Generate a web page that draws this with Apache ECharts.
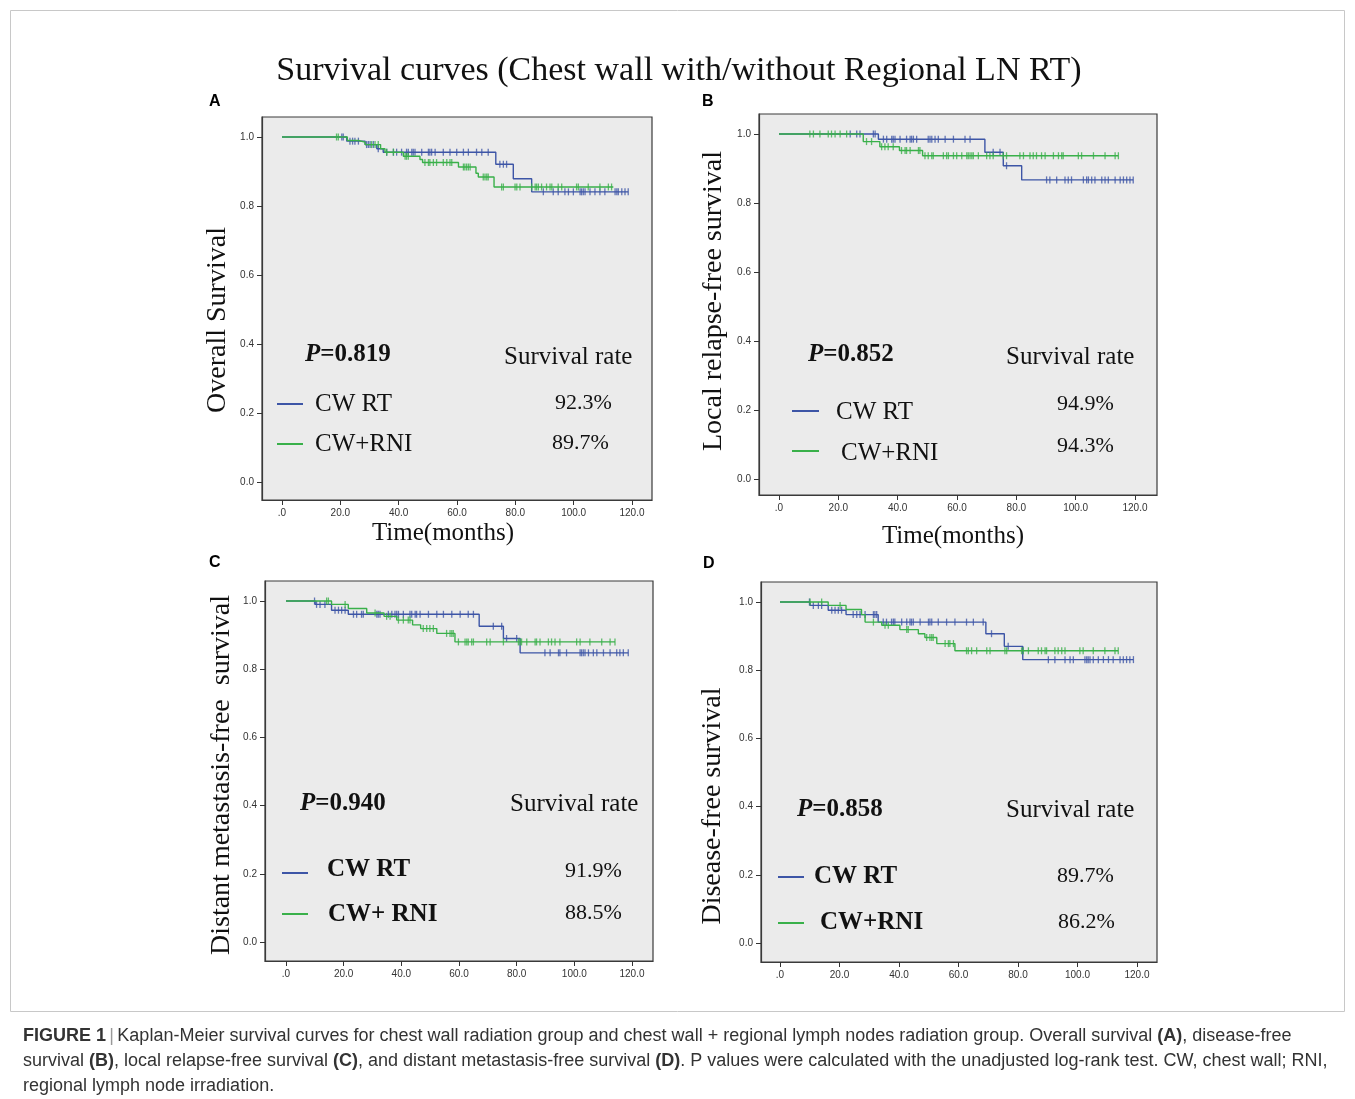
<!DOCTYPE html>
<html><head><meta charset="utf-8">
<script src="https://cdn.jsdelivr.net/npm/echarts@6/dist/echarts.min.js"></script>
<style>html,body{margin:0;padding:0;background:#fff}#c{width:1355px;height:1099px}</style>
</head><body><div id="c"></div>
<script>
// ---------------- DATA ----------------
const xTicks = [0, 20, 40, 60, 80, 100, 120];
const yTicks = [0, 0.2, 0.4, 0.6, 0.8, 1.0];

// Panel A: Overall survival
const osRtSteps = [[0,1],[22.2,0.988],[28.5,0.978],[32.5,0.966],[34.7,0.956],[73.3,0.921],[79.3,0.879],[85.6,0.841],[118.7,0.841]];
const osRtCensor = [20.5,21.0,23.3,24.2,25.0,26.2,29.0,29.6,30.2,31.3,33.0,35.9,38.2,39.3,41.0,42.7,43.3,44.5,45.0,45.6,47.9,50.2,50.7,51.3,52.5,55.3,57.6,59.9,62.2,63.9,66.7,68.5,70.7,74.7,75.9,77.0,89.6,93.0,94.7,97.0,98.2,99.9,102.2,102.7,103.3,103.9,105.6,107.3,109.0,110.7,114.2,114.8,115.3,116.5,117.6,118.7];
const osRniSteps = [[0,1],[22.4,0.99],[26.2,0.985],[28.5,0.978],[33.8,0.966],[35.3,0.956],[41.6,0.944],[47.3,0.935],[48.2,0.926],[60.5,0.913],[66.5,0.895],[67.3,0.884],[72.7,0.855],[113.6,0.855]];
const osRniCensor = [18.7,19.3,30.7,31.9,33.0,35.9,38.2,42.2,42.7,43.3,49.0,50.2,50.7,51.9,53.0,55.3,56.5,57.6,58.2,62.2,62.7,63.3,63.9,64.5,69.0,69.6,70.2,70.7,75.3,75.9,79.9,80.5,81.6,85.6,86.8,87.3,87.9,89.0,90.7,91.9,92.5,94.7,95.9,101.0,101.6,105.0,109.0,111.9,113.0];
const osRates = ['92.3%', '89.7%'];
const osP = '0.819';

// Panel B: Local relapse-free survival
const lrfsRtSteps = [[0,1],[33.5,0.985],[69.4,0.947],[75.6,0.908],[81.8,0.867],[119.4,0.867]];
const lrfsRtCensor = [24.0,26.2,27.3,31.8,32.4,35.2,36.3,38.0,38.5,39.1,40.8,43.0,44.2,44.7,45.3,46.4,50.3,50.9,51.5,52.6,53.7,56.0,58.8,62.7,64.4,72.2,74.5,76.7,90.2,91.3,93.6,96.4,97.5,98.6,102.6,103.7,104.3,105.4,106.5,108.8,109.9,111.0,113.3,115.0,116.1,117.2,118.3,119.4];
const lrfsRniSteps = [[0,1],[28.4,0.978],[34.0,0.963],[40.6,0.952],[48.4,0.937],[114.4,0.937]];
const lrfsRniCensor = [10.4,11.6,13.8,16.6,17.7,18.9,20.6,22.8,29.5,31.2,34.6,35.7,36.8,38.5,41.3,42.5,43.0,44.2,47.0,47.5,49.2,50.3,51.5,52.0,55.4,56.5,57.1,58.8,59.9,61.6,63.3,63.8,64.4,65.0,65.5,67.2,70.0,71.1,72.2,75.6,76.7,81.2,82.4,84.6,85.7,86.8,88.5,89.7,92.5,94.2,95.3,95.8,100.9,102.0,106.0,109.9,113.3,114.4];
const lrfsRates = ['94.9%', '94.3%'];
const lrfsP = '0.852';

// Panel C: Distant metastasis-free survival
const dmfsRtSteps = [[0,1],[10.1,0.990],[15.8,0.973],[21.6,0.961],[67.0,0.926],[75.4,0.890],[81.2,0.848],[118.7,0.848]];
const dmfsRtCensor = [9.9,10.6,11.8,13.5,17.0,18.2,19.3,20.5,23.4,24.5,26.2,26.8,31.5,32.0,32.6,35.5,36.7,37.8,38.4,39.0,40.7,43.0,43.6,44.8,45.3,46.5,49.4,52.3,54.6,57.5,60.4,63.2,65.0,71.9,74.8,76.5,80.0,89.8,91.6,94.5,95.0,97.3,102.0,102.5,103.1,103.7,104.9,106.6,107.8,110.1,112.4,114.7,115.8,117.0,118.7];
const dmfsRniSteps = [[0,1],[15.8,0.990],[21.6,0.978],[28.0,0.965],[34.0,0.955],[38.4,0.944],[43.9,0.930],[46.7,0.919],[52.3,0.905],[58.6,0.880],[114.1,0.880]];
const dmfsRniCensor = [14.1,14.7,20.5,30.9,34.9,36.1,39.0,40.7,42.4,43.0,47.6,48.8,49.9,51.1,55.7,56.9,57.5,58.0,59.8,62.1,62.7,63.2,64.4,65.0,69.6,70.8,75.4,80.6,81.2,81.7,83.5,86.4,86.9,88.1,91.0,92.1,93.3,95.0,100.8,102.0,105.4,109.5,112.4,114.1];
const dmfsRates = ['91.9%', '88.5%'];
const dmfsP = '0.940';

// Panel D: Disease-free survival
const dfsRtSteps = [[0,1],[10.1,0.990],[16.2,0.976],[22.2,0.963],[33.0,0.941],[69.2,0.907],[75.4,0.870],[81.6,0.831],[118.8,0.831]];
const dfsRtCensor = [9.9,11.2,12.9,14.0,17.4,18.5,19.6,20.7,24.6,25.8,26.9,28.6,31.4,31.9,32.5,34.7,35.8,37.5,38.1,38.6,40.9,42.6,43.7,44.2,44.8,47.1,49.9,50.4,51.0,53.2,56.0,58.8,62.7,65.0,68.3,71.1,76.7,90.2,92.4,95.8,97.5,98.6,102.5,103.1,103.6,104.2,105.3,107.0,108.7,110.4,112.0,114.3,115.4,116.5,117.6,118.8];
const dfsRniSteps = [[0,1],[16.2,0.990],[22.2,0.978],[27.4,0.963],[28.6,0.941],[34.2,0.932],[40.3,0.919],[46.5,0.907],[48.7,0.896],[52.7,0.878],[58.8,0.857],[113.7,0.857]];
const dfsRniCensor = [10.1,14.0,20.2,31.4,35.3,36.4,42.6,43.1,49.3,50.4,51.0,51.5,55.5,56.6,57.1,58.3,62.7,63.3,64.4,66.1,69.5,70.6,75.6,76.2,81.2,81.8,83.5,86.8,87.9,89.1,89.6,92.4,93.5,94.7,95.8,100.8,101.9,105.3,109.2,112.6,113.7];
const dfsRates = ['89.7%', '86.2%'];
const dfsP = '0.858';

// ---------------- LAYOUT / STYLE ----------------
const BLUE = '#3d55a6', GREEN = '#39b04a';
const SERIF = '"Liberation Serif","Times New Roman",serif';
const SANS = '"Liberation Sans",Arial,sans-serif';

const panels = [
  { letter:'A', steps:[osRtSteps, osRniSteps], cens:[osRtCensor, osRniCensor], rates:osRates, p:osP,
    box:{l:262,t:117,r:652,b:500}, data:{l:282,t:137,w:350,h:345},
    yTitle:'Overall Survival', yT:{x:218,y:320}, xTitle:'Time(months)', xT:{x:443,y:533}, letterPos:{x:209,y:102},
    txt:{p:[305,355], sr:[504,357], l1:[277,303,404], n1:[315,404], r1:[555,403], l2:[277,303,444], n2:[315,444], r2:[552,443]},
    bold:false, names:['CW RT','CW+RNI'] },
  { letter:'B', steps:[lrfsRtSteps, lrfsRniSteps], cens:[lrfsRtCensor, lrfsRniCensor], rates:lrfsRates, p:lrfsP,
    box:{l:759,t:114,r:1157,b:495}, data:{l:779,t:134,w:356,h:345},
    yTitle:'Local relapse-free survival', yT:{x:714,y:301}, xTitle:'Time(months)', xT:{x:953,y:536}, letterPos:{x:702,y:102},
    txt:{p:[808,355], sr:[1006,357], l1:[792,819,411], n1:[836,412], r1:[1057,404], l2:[792,819,451], n2:[841,453], r2:[1057,446]},
    bold:false, names:['CW RT','CW+RNI'] },
  { letter:'C', steps:[dmfsRtSteps, dmfsRniSteps], cens:[dmfsRtCensor, dmfsRniCensor], rates:dmfsRates, p:dmfsP,
    box:{l:265,t:581,r:653,b:961}, data:{l:286,t:601,w:346,h:341},
    yTitle:'Distant metastasis-free  survival', yT:{x:222,y:775}, xTitle:null, letterPos:{x:209,y:563},
    txt:{p:[300,804], sr:[510,804], l1:[282,308,873], n1:[327,870], r1:[565,871], l2:[282,308,914], n2:[328,915], r2:[565,913]},
    bold:true, names:['CW RT','CW+ RNI'] },
  { letter:'D', steps:[dfsRtSteps, dfsRniSteps], cens:[dfsRtCensor, dfsRniCensor], rates:dfsRates, p:dfsP,
    box:{l:761,t:582,r:1157,b:962}, data:{l:780,t:602,w:357,h:341},
    yTitle:'Disease-free survival', yT:{x:713,y:806}, xTitle:null, letterPos:{x:703,y:564},
    txt:{p:[797,810], sr:[1006,810], l1:[778,804,877], n1:[814,877], r1:[1057,876], l2:[778,804,923], n2:[820,923], r2:[1058,922]},
    bold:true, names:['CW RT','CW+RNI'] }
];

function levelAt(steps, t) {
  let s = steps[0][1];
  for (const [tt, v] of steps) { if (tt <= t) s = v; }
  return s;
}

const grid = [], xAxis = [], yAxis = [], series = [], graphic = [];
const X0 = xTicks[0], X1 = xTicks[xTicks.length-1], Y0 = yTicks[0], Y1 = yTicks[yTicks.length-1];

panels.forEach((P, i) => {
  const b = P.box, d = P.data;
  const xPer = (X1 - X0) / d.w, yPer = (Y1 - Y0) / d.h;
  grid.push({ left:b.l, top:b.t, width:b.r-b.l, height:b.b-b.t, show:true,
    backgroundColor:'#ebebeb', borderColor:'#3a3a3a', borderWidth:1.2 });
  xAxis.push({ gridIndex:i, type:'value',
    min: X0 - (d.l - b.l) * xPer, max: X1 + (b.r - d.l - d.w) * xPer,
    axisLine:{show:true, onZero:false, lineStyle:{color:'#3a3a3a', width:1.2}},
    axisTick:{show:true, length:5, customValues:xTicks, lineStyle:{color:'#333', width:1}},
    axisLabel:{fontSize:10, color:'#333', fontFamily:SANS, margin:8, customValues:xTicks,
      formatter:v => v === 0 ? '.0' : v.toFixed(1)},
    splitLine:{show:false} });
  yAxis.push({ gridIndex:i, type:'value',
    min: Y0 - (b.b - d.t - d.h) * yPer, max: Y1 + (d.t - b.t) * yPer,
    axisLine:{show:true, onZero:false, lineStyle:{color:'#3a3a3a', width:1.2}},
    axisTick:{show:true, length:5, customValues:yTicks, lineStyle:{color:'#333', width:1}},
    axisLabel:{fontSize:10, color:'#333', fontFamily:SANS, margin:8, customValues:yTicks, formatter:v => v.toFixed(1)},
    splitLine:{show:false} });
  const colors = [BLUE, GREEN];
  [0,1].forEach(g => {
    series.push({ type:'line', step:'end', xAxisIndex:i, yAxisIndex:i, showSymbol:false,
      data:P.steps[g], lineStyle:{color:colors[g], width:1.4}, itemStyle:{color:colors[g]}, z:2+g, silent:true, animation:false });
    series.push({ type:'scatter', xAxisIndex:i, yAxisIndex:i, symbol:'rect', symbolSize:[1.3,7],
      data:P.cens[g].map(t => [t, levelAt(P.steps[g], t)]), itemStyle:{color:colors[g]}, z:2+g, silent:true, animation:false });
  });

  graphic.push({ type:'text', x:P.letterPos.x, y:P.letterPos.y, style:{ text:P.letter, fontFamily:SANS, fontWeight:'bold', fontSize:16, fill:'#000', textVerticalAlign:'middle' } });
  graphic.push({ type:'text', x:P.yT.x, y:P.yT.y, rotation:Math.PI/2,
    style:{ text:P.yTitle, fontFamily:SERIF, fontSize:28, fill:'#111', textAlign:'center', textVerticalAlign:'middle' } });
  if (P.xTitle) graphic.push({ type:'text', x:P.xT.x, y:P.xT.y,
    style:{ text:P.xTitle, fontFamily:SERIF, fontSize:25, fill:'#111', textAlign:'center', textVerticalAlign:'middle' } });
  const T = P.txt;
  graphic.push({ type:'text', x:T.p[0], y:T.p[1], style:{ text:'{i|P}{n|=' + P.p + '}',
    rich:{ i:{fontFamily:SERIF, fontSize:25, fontWeight:'bold', fontStyle:'italic', fill:'#111'},
           n:{fontFamily:SERIF, fontSize:25, fontWeight:'bold', fill:'#111'} },
    textVerticalAlign:'middle' } });
  graphic.push({ type:'text', x:T.sr[0], y:T.sr[1], style:{ text:'Survival rate', fontFamily:SERIF, fontSize:25, fill:'#111', textVerticalAlign:'middle' } });
  graphic.push({ type:'line', shape:{x1:T.l1[0], y1:T.l1[2], x2:T.l1[1], y2:T.l1[2]}, style:{stroke:BLUE, lineWidth:2} });
  graphic.push({ type:'line', shape:{x1:T.l2[0], y1:T.l2[2], x2:T.l2[1], y2:T.l2[2]}, style:{stroke:GREEN, lineWidth:2} });
  graphic.push({ type:'text', x:T.n1[0], y:T.n1[1], style:{ text:P.names[0], fontFamily:SERIF, fontSize:25, fontWeight:P.bold?'bold':'normal', fill:'#111', textVerticalAlign:'middle' } });
  graphic.push({ type:'text', x:T.n2[0], y:T.n2[1], style:{ text:P.names[1], fontFamily:SERIF, fontSize:25, fontWeight:P.bold?'bold':'normal', fill:'#111', textVerticalAlign:'middle' } });
  graphic.push({ type:'text', x:T.r1[0], y:T.r1[1], style:{ text:P.rates[0], fontFamily:SERIF, fontSize:22, fill:'#111', textVerticalAlign:'middle' } });
  graphic.push({ type:'text', x:T.r2[0], y:T.r2[1], style:{ text:P.rates[1], fontFamily:SERIF, fontSize:22, fill:'#111', textVerticalAlign:'middle' } });
});

graphic.push({ type:'rect', shape:{x:10.5, y:10.5, width:1334, height:1001}, style:{fill:'none', stroke:'#c8c8c8', lineWidth:1}, z:-10 });
graphic.push({ type:'text', x:679, y:71, style:{ text:'Survival curves (Chest wall with/without Regional LN RT)', fontFamily:SERIF, fontSize:34, fill:'#111', textAlign:'center', textVerticalAlign:'middle' } });
const capRich = { b:{fontFamily:SANS, fontSize:18, fontWeight:'bold', fill:'#333'}, n:{fontFamily:SANS, fontSize:18, fill:'#333'}, g:{fontFamily:SANS, fontSize:18, fill:'#999'} };
const capLines = [
  '{b|FIGURE 1} {g||} {n|Kaplan-Meier survival curves for chest wall radiation group and chest wall + regional lymph nodes radiation group. Overall survival }{b|(A)}{n|, disease-free}',
  '{n|survival }{b|(B)}{n|, local relapse-free survival }{b|(C)}{n|, and distant metastasis-free survival }{b|(D)}{n|. P values were calculated with the unadjusted log-rank test. CW, chest wall; RNI,}',
  '{n|regional lymph node irradiation.}'
];
capLines.forEach((s, k) => graphic.push({ type:'text', x:23, y:1036 + 25*k, style:{ text:s, rich:capRich, textVerticalAlign:'middle' } }));

const chart = echarts.init(document.getElementById('c'), null, { renderer:'canvas' });
chart.setOption({ backgroundColor:'#fff', animation:false, grid, xAxis, yAxis, series, graphic });
</script></body></html>
